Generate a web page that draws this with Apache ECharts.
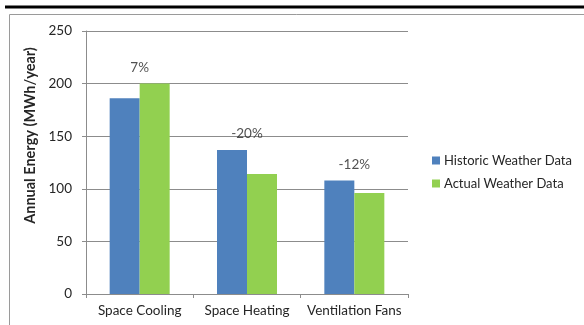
<!DOCTYPE html>
<html>
<head>
<meta charset="utf-8">
<script src="https://cdn.jsdelivr.net/npm/echarts@6/dist/echarts.min.js"></script>
<style>
  html, body { margin: 0; padding: 0; background: #fff; }
  #chart { width: 584px; height: 325px; }
</style>
</head>
<body>
<div id="chart"></div>
<script>
// Annual energy by end use, historic vs actual weather data
const categories = ['Space Cooling', 'Space Heating', 'Ventilation Fans'];
const historicWeather = [186, 137, 108];
const actualWeather = [200, 114, 96];
const changeLabels = ['7%', '-20%', '-12%'];
const yTicks = [0, 50, 100, 150, 200, 250];

const FONT = 'Lato, "Liberation Sans", sans-serif';
const TEXT = '#262626';
const GRID = '#8c8c8c';

// Anchor for the change labels: the taller bar of each pair
const labelAnchor = categories.map((_, i) => Math.max(historicWeather[i], actualWeather[i]));

const chart = echarts.init(document.getElementById('chart'), null, { renderer: 'canvas' });
chart.setOption({
  animation: false,
  backgroundColor: '#fff',
  textStyle: { fontFamily: FONT, color: TEXT },
  graphic: [
    { type: 'line', shape: { x1: 5, y1: 7, x2: 584, y2: 7 }, style: { stroke: '#000', lineWidth: 3 } },
    { type: 'polyline', shape: { points: [[9.5, 325], [9.5, 14.5], [584, 14.5]] }, style: { stroke: '#9a9a9a', lineWidth: 1, fill: null } }
  ],
  grid: { left: 86, right: 176, top: 31, bottom: 31, containLabel: false },
  legend: {
    orient: 'vertical',
    left: 427,
    top: 149,
    itemWidth: 8,
    itemHeight: 8,
    itemGap: 10,
    icon: 'rect',
    textStyle: { fontFamily: FONT, fontSize: 13, color: TEXT, padding: [0, 0, 0, -1] },
    data: ['Historic Weather Data', 'Actual Weather Data']
  },
  xAxis: {
    type: 'category',
    data: categories,
    axisLine: { lineStyle: { color: GRID } },
    axisTick: { show: true, length: 4, alignWithLabel: false, lineStyle: { color: GRID } },
    axisLabel: { interval: 0, fontFamily: FONT, fontSize: 13.5, color: TEXT, margin: 10 }
  },
  yAxis: {
    type: 'value',
    min: yTicks[0],
    max: yTicks[yTicks.length - 1],
    interval: yTicks[1] - yTicks[0],
    name: 'Annual Energy (MWh/year)',
    nameLocation: 'middle',
    nameGap: 40,
    nameRotate: 90,
    nameTextStyle: { fontFamily: FONT, fontSize: 14.5, fontWeight: 'bold', color: TEXT, padding: [0, 0, 0, 54] },
    axisLine: { show: true, lineStyle: { color: GRID } },
    axisTick: { show: true, length: 4, lineStyle: { color: GRID } },
    axisLabel: { fontFamily: FONT, fontSize: 13.5, color: TEXT, margin: 14 },
    splitLine: { lineStyle: { color: GRID, width: 1 } }
  },
  series: [
    {
      name: 'Historic Weather Data',
      type: 'bar',
      data: historicWeather,
      barWidth: 30,
      barGap: '0%',
      itemStyle: { color: '#4F81BD' }
    },
    {
      name: 'Actual Weather Data',
      type: 'bar',
      data: actualWeather,
      barWidth: 30,
      barGap: '0%',
      itemStyle: { color: '#92D050' }
    },
    {
      name: 'change',
      type: 'scatter',
      data: labelAnchor,
      symbolSize: 0,
      silent: true,
      label: {
        show: true,
        position: 'top',
        distance: 9,
        fontFamily: FONT,
        fontSize: 13.5,
        color: TEXT,
        formatter: p => changeLabels[p.dataIndex]
      }
    }
  ]
});
</script>
</body>
</html>
